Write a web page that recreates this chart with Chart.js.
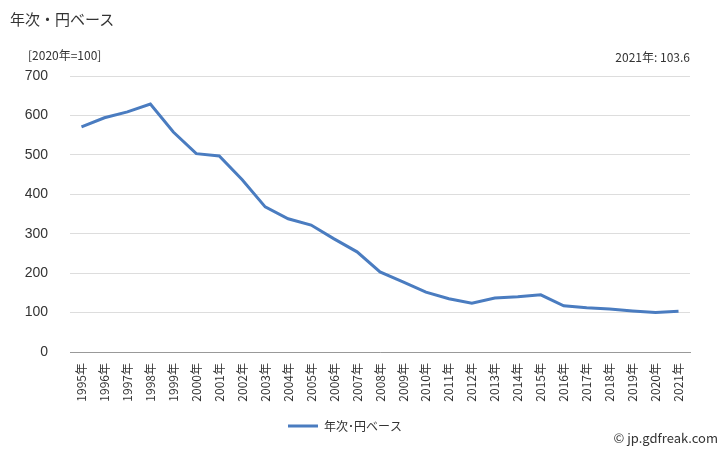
<!DOCTYPE html>
<html><head><meta charset="utf-8">
<script src="https://cdn.jsdelivr.net/npm/chart.js@4/dist/chart.umd.min.js"></script>
<style>body{margin:0;background:#fff;font-family:"Noto Sans CJK JP";}
#wrap{position:relative;width:728px;height:450px;}
.t{position:absolute;font-family:"Noto Sans CJK JP";color:#333;}
</style></head><body>
<div id="wrap">
<div class="t" style="left:10px;top:8px;font-size:15px;">年次・円ベース</div>
<div class="t" style="left:28px;top:46px;font-size:12px;">[2020年=100]</div>
<div class="t" style="right:38px;top:48px;font-size:12px;">2021年: 103.6</div>
<div class="t" style="right:10px;top:428px;font-size:13px;">© jp.gdfreak.com</div>
<canvas id="c" width="728" height="450"></canvas>
</div>
<script>
const categories=["1995年","1996年","1997年","1998年","1999年","2000年","2001年","2002年","2003年","2004年","2005年","2006年","2007年","2008年","2009年","2010年","2011年","2012年","2013年","2014年","2015年","2016年","2017年","2018年","2019年","2020年","2021年"];
const values=[571,594,609,629,558,503,497,437,368,338,322,287,254,203,178,152,135,124,137,140,145,117,112,109,104,100,103.6];
const seriesName="年次･円ベース";
new Chart(document.getElementById('c'),{type:'line',
data:{labels:categories,datasets:[{label:seriesName,data:values,borderColor:'#4a7cc0',backgroundColor:'#4a7cc0',borderWidth:3,pointRadius:0,tension:0}]},
options:{responsive:false,animation:false,
layout:{padding:{left:0,right:38,top:76,bottom:8}},
plugins:{legend:{position:'bottom',labels:{boxWidth:30,boxHeight:0,font:{family:'Noto Sans CJK JP',size:12},color:'#333'}},tooltip:{enabled:false}},
scales:{x:{offset:true,afterFit:s=>{s.height=58;},grid:{display:false,drawTicks:true},border:{color:'#999'},ticks:{maxRotation:90,minRotation:90,color:'#333',font:{family:'Noto Sans CJK JP',size:12}}},
y:{min:0,max:700,afterFit:s=>{s.width=70;},ticks:{stepSize:100,color:'#333',font:{size:14,family:'Liberation Sans'},padding:22},grid:{color:'#ddd',drawTicks:false},border:{display:false}}}}});
</script></body></html>
